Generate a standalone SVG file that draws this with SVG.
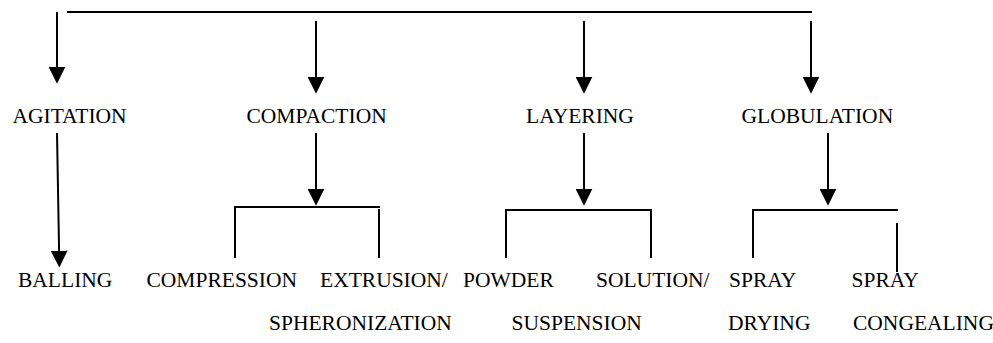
<svg xmlns="http://www.w3.org/2000/svg" width="993" height="343" viewBox="0 0 993 343">
<style>
.t{font-family:"Liberation Serif","Times New Roman",serif;font-size:21.5px;fill:#000}
.c line,.c polyline{stroke:#000;stroke-width:2;fill:none}
</style>
<defs>
<marker id="ah" markerUnits="userSpaceOnUse" markerWidth="17" markerHeight="17" viewBox="0 0 16 16" refX="6" refY="8" orient="auto">
<path d="M0,0 L16,8 L0,16 z" fill="#000"/>
</marker>
</defs>
<rect width="993" height="343" fill="#fff"/>
<g class="c" id="connectors">
<line x1="67" y1="12" x2="812" y2="12"/>
<line x1="57" y1="12" x2="57" y2="73" marker-end="url(#ah)"/>
<line x1="316" y1="21" x2="316" y2="83" marker-end="url(#ah)"/>
<line x1="584" y1="21" x2="584" y2="83" marker-end="url(#ah)"/>
<line x1="811" y1="21" x2="811" y2="83" marker-end="url(#ah)"/>
<line x1="57" y1="133" x2="59.2" y2="257" marker-end="url(#ah)"/>
<line x1="316" y1="133" x2="316" y2="195" marker-end="url(#ah)"/>
<line x1="584" y1="133" x2="584" y2="195" marker-end="url(#ah)"/>
<line x1="828" y1="133" x2="828" y2="195" marker-end="url(#ah)"/>
<polyline points="235,258 235,207 380,207"/>
<line x1="379" y1="209" x2="379" y2="258"/>
<polyline points="506,258 506,210 651,210 651,258"/>
<polyline points="753,258 753,210 898,210"/>
<line x1="897" y1="223" x2="897" y2="272"/>
</g>
<g id="agitation"><text class="t" x="12.5" y="123">AGITATION</text></g>
<g id="compaction"><text class="t" x="246.5" y="123">COMPACTION</text></g>
<g id="layering"><text class="t" x="526" y="123">LAYERING</text></g>
<g id="globulation"><text class="t" x="741.5" y="123">GLOBULATION</text></g>
<g id="balling"><text class="t" x="18" y="287">BALLING</text></g>
<g id="compression"><text class="t" x="146.5" y="287">COMPRESSION</text></g>
<g id="extrusion"><text class="t" x="320" y="287">EXTRUSION/</text><text class="t" x="269" y="330">SPHERONIZATION</text></g>
<g id="powder"><text class="t" x="463" y="287">POWDER</text></g>
<g id="solution"><text class="t" x="596" y="287">SOLUTION/</text><text class="t" x="511.5" y="330">SUSPENSION</text></g>
<g id="spray-drying"><text class="t" x="729" y="287">SPRAY</text><text class="t" x="728" y="330">DRYING</text></g>
<g id="spray-congealing"><text class="t" x="851.5" y="287">SPRAY</text><text class="t" x="853" y="330">CONGEALING</text></g>
</svg>
